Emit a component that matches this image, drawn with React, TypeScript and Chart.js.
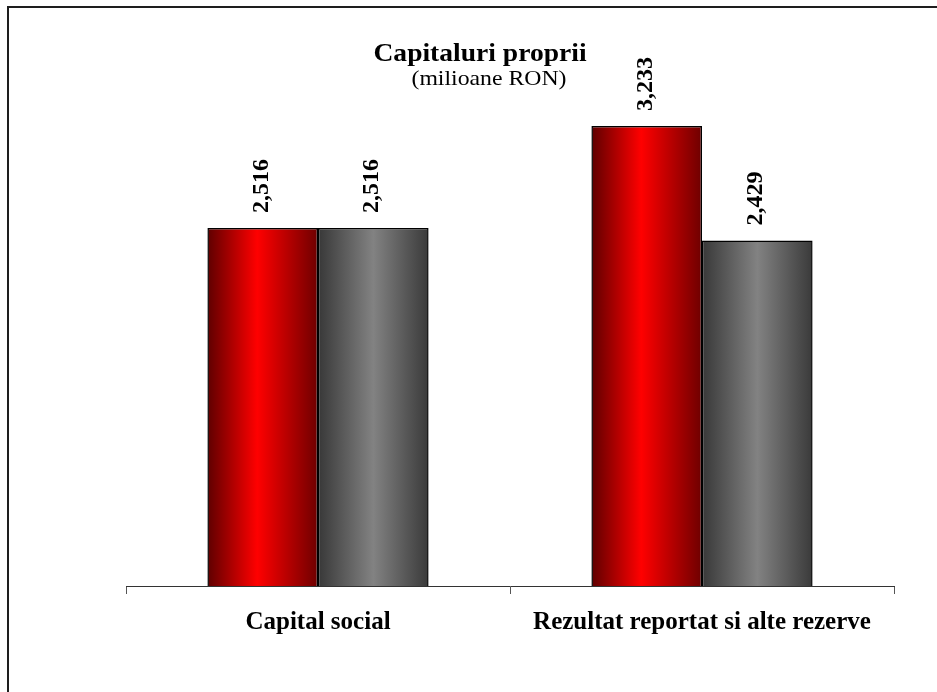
import React, { useEffect, useRef } from "react";
import { Chart, registerables } from "chart.js";

Chart.register(...registerables);

const categories = ["Capital social", "Rezultat reportat si alte rezerve"];
const seriesA = [2516, 3233];
const seriesB = [2516, 2429];
const seriesNames = ["Seria 1", "Seria 2"];
const titleText = "Capitaluri proprii";
const subtitleText = "(milioane RON)";
const yMin = 0;
const yMax = 3500;

const FONT = '"Liberation Serif", "Times New Roman", serif';

const gradientStops: Array<Array<[number, string]>> = [
  [
    [0, "#5e0000"],
    [0.45, "#ff0000"],
    [1, "#6e0000"],
  ],
  [
    [0, "#383838"],
    [0.5, "#828282"],
    [1, "#3a3a3a"],
  ],
];

export default function App() {
  const ref = useRef<HTMLCanvasElement | null>(null);

  useEffect(() => {
    const canvas = ref.current!;

    const framePlugin = {
      id: "frame",
      beforeDraw(chart: any) {
        const ctx = chart.ctx;
        ctx.save();
        ctx.fillStyle = "#ffffff";
        ctx.fillRect(0, 0, chart.width, chart.height);
        ctx.strokeStyle = "#1e1e1e";
        ctx.lineWidth = 2;
        ctx.strokeRect(8, 7, chart.width + 20, chart.height + 20);
        ctx.restore();
      },
    };

    const gradientPlugin = {
      id: "barGradient",
      beforeDatasetsDraw(chart: any) {
        const ctx = chart.ctx;
        chart.data.datasets.forEach((_ds: any, di: number) => {
          const meta = chart.getDatasetMeta(di);
          meta.data.forEach((el: any) => {
            const { x, width } = el.getProps(["x", "width"], true);
            const left = x - width / 2;
            const g = ctx.createLinearGradient(left, 0, left + width, 0);
            gradientStops[di].forEach(([o, c]) => g.addColorStop(o, c));
            el.options = { ...el.options, backgroundColor: g };
          });
        });
      },
    };

    const labelPlugin = {
      id: "valueLabels",
      afterDatasetsDraw(chart: any) {
        const ctx = chart.ctx;
        ctx.save();
        ctx.fillStyle = "#000";
        ctx.font = `bold 24px ${FONT}`;
        ctx.textAlign = "left";
        ctx.textBaseline = "middle";
        chart.data.datasets.forEach((ds: any, di: number) => {
          const meta = chart.getDatasetMeta(di);
          meta.data.forEach((el: any, i: number) => {
            const { x, y } = el.getProps(["x", "y"], true);
            const txt = Number(ds.data[i]).toLocaleString("en-US");
            ctx.save();
            ctx.translate(x - 1, y - 15);
            ctx.rotate(-Math.PI / 2);
            ctx.fillText(txt, 0, 0);
            ctx.restore();
          });
        });
        ctx.restore();
      },
    };

    const titlePlugin = {
      id: "titles",
      afterDraw(chart: any) {
        const ctx = chart.ctx;
        ctx.save();
        ctx.fillStyle = "#000";
        ctx.textAlign = "center";
        ctx.textBaseline = "alphabetic";
        ctx.translate(480, 61);
        ctx.scale(1.06, 1);
        ctx.font = `bold 26px ${FONT}`;
        ctx.fillText(titleText, 0, 0);
        ctx.restore();
        ctx.save();
        ctx.fillStyle = "#000";
        ctx.textAlign = "center";
        ctx.textBaseline = "alphabetic";
        ctx.translate(489, 85);
        ctx.scale(1.08, 1);
        ctx.font = `22px ${FONT}`;
        ctx.fillText(subtitleText, 0, 0);
        ctx.restore();
      },
    };

    const chart = new Chart(canvas, {
      type: "bar",
      data: {
        labels: categories,
        datasets: [
          {
            label: seriesNames[0],
            data: seriesA,
            backgroundColor: "#ff0000",
            borderColor: "#000000",
            borderWidth: 1.5,
            categoryPercentage: 0.576,
            barPercentage: 1,
          },
          {
            label: seriesNames[1],
            data: seriesB,
            backgroundColor: "#808080",
            borderColor: "#000000",
            borderWidth: 1.5,
            categoryPercentage: 0.576,
            barPercentage: 1,
          },
        ],
      },
      options: {
        responsive: false,
        animation: false,
        events: [],
        layout: { padding: { left: 126, right: 43, top: 88, bottom: 0 } },
        plugins: {
          legend: { display: false },
          title: { display: false },
          tooltip: { enabled: false },
        },
        scales: {
          x: {
            grid: {
              display: true,
              offset: true,
              drawOnChartArea: false,
              drawTicks: true,
              tickLength: 8,
              color: "#555555",
              lineWidth: 1,
            },
            border: { display: true, color: "#333333", width: 1 },
            ticks: {
              color: "#000",
              font: { family: FONT, size: 25, weight: "bold" },
              padding: 14,
              maxRotation: 0,
              autoSkip: false,
            },
            afterFit(scale: any) {
              scale.height = 106;
            },
          },
          y: {
            display: false,
            min: yMin,
            max: yMax,
          },
        },
      },
      plugins: [framePlugin, gradientPlugin, labelPlugin, titlePlugin],
    } as any);

    return () => chart.destroy();
  }, []);

  return (
    <div
      style={{
        position: "fixed",
        left: 0,
        top: 0,
        width: 937,
        height: 692,
        overflow: "hidden",
        background: "#fff",
      }}
    >
      <canvas ref={ref} width={937} height={692} />
    </div>
  );
}
